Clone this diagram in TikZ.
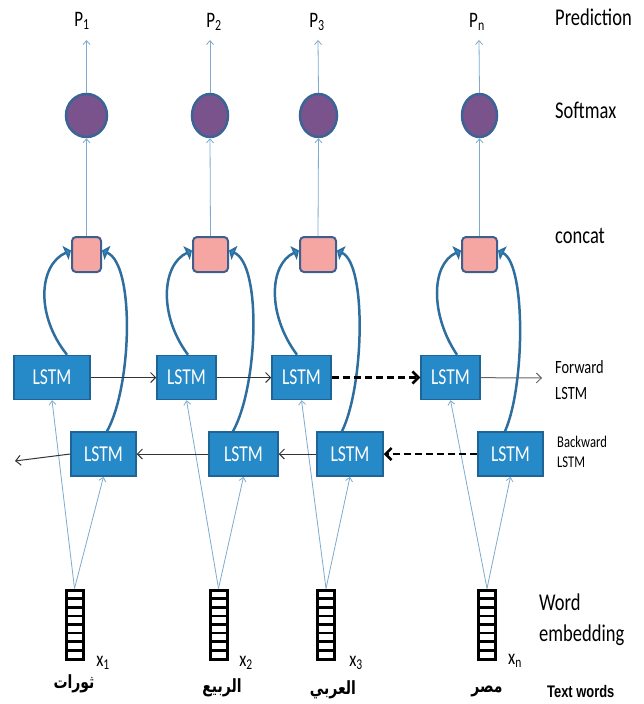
\documentclass[tikz,border=0pt]{standalone}
\usepackage{fontspec}
\usepackage{graphicx}
\setmainfont{Carlito}
\newfontfamily\arabicfont[Script=Arabic]{DejaVu Sans}
\newfontfamily\arialfont{Liberation Sans}
\TeXXeTstate=1
\usetikzlibrary{arrows.meta,shapes.geometric,calc}
\definecolor{lstmfill}{RGB}{38,138,200}
\definecolor{lstmdraw}{RGB}{30,100,150}
\definecolor{catfill}{RGB}{245,165,162}
\definecolor{catdraw}{RGB}{62,95,140}
\definecolor{smfill}{RGB}{122,82,140}
\definecolor{smdraw}{RGB}{58,100,150}
\definecolor{curvecol}{RGB}{46,110,158}
\definecolor{thincol}{RGB}{125,170,205}
\newcommand{\vst}[1]{\scalebox{1}[1.3]{#1}}
\tikzset{
 lstm/.style={draw=lstmdraw, fill=lstmfill, line width=1.5pt, minimum height=44pt, text=white, font=\fontsize{17.5}{20}\selectfont, inner sep=0pt},
 cat/.style={draw=catdraw, fill=catfill, line width=2pt, rounded corners=4pt, minimum height=35pt, inner sep=0pt},
 smax/.style={ellipse, draw=smdraw, fill=smfill, line width=2.5pt, minimum height=43pt, inner sep=0pt},
 emb/.style={draw=black, line width=3pt, minimum width=17pt, minimum height=69pt, inner sep=0pt,
   path picture={\foreach \k in {1,...,7}{\draw[line width=2.6pt] ($(path picture bounding box.north west)!\k/8!(path picture bounding box.south west)$) -- ($(path picture bounding box.north east)!\k/8!(path picture bounding box.south east)$);}}},
 lbl/.style={font=\fontsize{18.5}{31}\selectfont, anchor=west, inner sep=0pt, align=left},
 plbl/.style={font=\fontsize{17}{18}\selectfont, inner sep=0pt},
 xlbl/.style={font=\fontsize{16.5}{18}\selectfont, inner sep=0pt},
 arw/.style={font=\arabicfont\bfseries\fontsize{14}{16}\selectfont, inner sep=0pt},
 loop/.style={draw=curvecol, line width=2.5pt, -{Triangle[length=6pt,width=15pt,fill=lstmfill]}},
 feed/.style={draw=thincol, line width=0.8pt, -{Straight Barb[length=4pt,width=7pt]}},
 chain/.style={draw=black!80, line width=1pt, -{Straight Barb[length=5pt,width=10pt]}},
 dchain/.style={draw=black, line width=2.5pt, dash pattern=on 7pt off 4pt, -{Straight Barb[length=6pt,width=12pt,line width=2.5pt]}},
}
\begin{document}
\begin{tikzpicture}[x=1pt,y=-1pt]
\useasboundingbox (0,0) rectangle (644,704);
% prediction labels
\node[plbl] (p1) at (82,21) {\vst{P\textsubscript{1}}};
\node[plbl] (p2) at (214,22) {\vst{P\textsubscript{2}}};
\node[plbl] (p3) at (317,22) {\vst{P\textsubscript{3}}};
\node[plbl] (p4) at (477,22) {\vst{P\textsubscript{n}}};
\coordinate (t1) at (86.5,40);
\coordinate (t2) at (210,40);
\coordinate (t3) at (318,40);
\coordinate (t4) at (479,40);
% softmax
\node[smax, minimum width=41pt] (s1) at (86.5,115.5) {};
\node[smax, minimum width=36pt] (s2) at (210,115.5) {};
\node[smax, minimum width=37pt] (s3) at (318.5,115.5) {};
\node[smax, minimum width=35pt] (s4) at (479.5,115.5) {};
% concat
\node[cat, minimum width=29pt] (c1) at (86.5,254.5) {};
\node[cat, minimum width=35pt] (c2) at (210.5,254.5) {};
\node[cat, minimum width=36pt] (c3) at (318,254.5) {};
\node[cat, minimum width=35pt] (c4) at (479.5,254.5) {};
% forward LSTMs
\node[lstm, minimum width=76pt] (f1) at (52,377.5) {\vst{LSTM}};
\node[lstm, minimum width=59pt] (f2) at (186.5,377.5) {\vst{LSTM}};
\node[lstm, minimum width=59pt] (f3) at (301.5,377.5) {\vst{LSTM}};
\node[lstm, minimum width=59pt] (f4) at (450.5,377.5) {\vst{LSTM}};
% backward LSTMs
\node[lstm, minimum width=65pt] (b1) at (103.5,454) {\vst{LSTM}};
\node[lstm, minimum width=69pt] (b2) at (243.5,454) {\vst{LSTM}};
\node[lstm, minimum width=66pt] (b3) at (350,454) {\vst{LSTM}};
\node[lstm, minimum width=65pt] (b4) at (510.5,454) {\vst{LSTM}};
% embeddings
\node[emb] (e1) at (74.5,624.5) {};
\node[emb] (e2) at (218.5,624.5) {};
\node[emb] (e3) at (326,624.5) {};
\node[emb] (e4) at (487,624.5) {};
% x labels
\node[xlbl] (x1) at (103,663) {\vst{x\textsubscript{1}}};
\node[xlbl] (x2) at (246,663) {\vst{x\textsubscript{2}}};
\node[xlbl] (x3) at (356,663) {\vst{x\textsubscript{3}}};
\node[xlbl] (x4) at (515,661) {\vst{x\textsubscript{n}}};
% arabic words
\node[arw] (w1) at (74,684) {\vst{\beginR ثورات\endR}};
\node[arw] (w2) at (222,688) {\vst{\beginR الربيع\endR}};
\node[arw] (w3) at (333,690) {\vst{\beginR العربي\endR}};
\node[arw] (w4) at (487,691) {\vst{\beginR مصر\endR}};
% right labels
\node[lbl] (lp) at (555,17) {\vst{Prediction}};
\node[lbl] (ls) at (555,110) {\vst{Softmax}};
\node[lbl] (lc) at (555,236) {\vst{concat}};
\node[lbl, font=\fontsize{14.4}{26}\selectfont] (lf) at (555,380) {\vst{Forward}\\\vst{LSTM}};
\node[lbl, font=\fontsize{12.6}{20}\selectfont] (lb) at (557,452) {\vst{Backward}\\\vst{LSTM}};
\node[lbl] (lw) at (539,620) {\vst{Word}\\\vst{embedding}};
\node[lbl, font=\arialfont\bfseries\fontsize{12.9}{15}\selectfont] (lt) at (547,691) {\vst{Text words}};
% outputs
\foreach \i in {1,2,3,4}{
  \draw[feed] (s\i.north) -- (t\i);
  \draw[feed] (c\i.north) -- (s\i.south);
  \draw[feed] (e\i.north) -- (f\i.south);
  \draw[feed] (e\i.north) -- (b\i.south);
}
% loops into concat
\draw[loop] ([xshift=15pt]f1.north) .. controls +(-32,-40) and +(-32,14) .. ([yshift=4pt]c1.west);
\draw[loop] ([xshift=3.5pt]b1.north) .. controls +(25,-45) and +(33,14) .. ([yshift=4pt]c1.east);
\draw[loop] ([xshift=1.5pt]f2.north) .. controls +(-30,-40) and +(-30,14) .. ([yshift=4pt]c2.west);
\draw[loop] ([xshift=-10.5pt]b2.north) .. controls +(25,-45) and +(33,14) .. ([yshift=4pt]c2.east);
\draw[loop] ([xshift=-4.5pt]f3.north) .. controls +(-30,-40) and +(-30,14) .. ([yshift=4pt]c3.west);
\draw[loop] ([xshift=-8pt]b3.north) .. controls +(22,-45) and +(30,14) .. ([yshift=4pt]c3.east);
\draw[loop] ([xshift=6.5pt]f4.north) .. controls +(-27,-40) and +(-30,14) .. ([yshift=4pt]c4.west);
\draw[loop] ([xshift=-5.5pt]b4.north) .. controls +(20,-45) and +(28,14) .. ([yshift=4pt]c4.east);
% recurrent chains
\coordinate (fo) at (542,378);
\coordinate (bo) at (15,461);
\draw[chain] (f1) -- (f2);
\draw[chain] (f2) -- (f3);
\draw[dchain] (f3) -- (f4);
\draw[chain, draw=black!60] (f4) -- (fo);
\draw[dchain] (b4) -- (b3);
\draw[chain] (b3) -- (b2);
\draw[chain] (b2) -- (b1);
\draw[chain] (b1.west) -- (bo);
\end{tikzpicture}
\end{document}
